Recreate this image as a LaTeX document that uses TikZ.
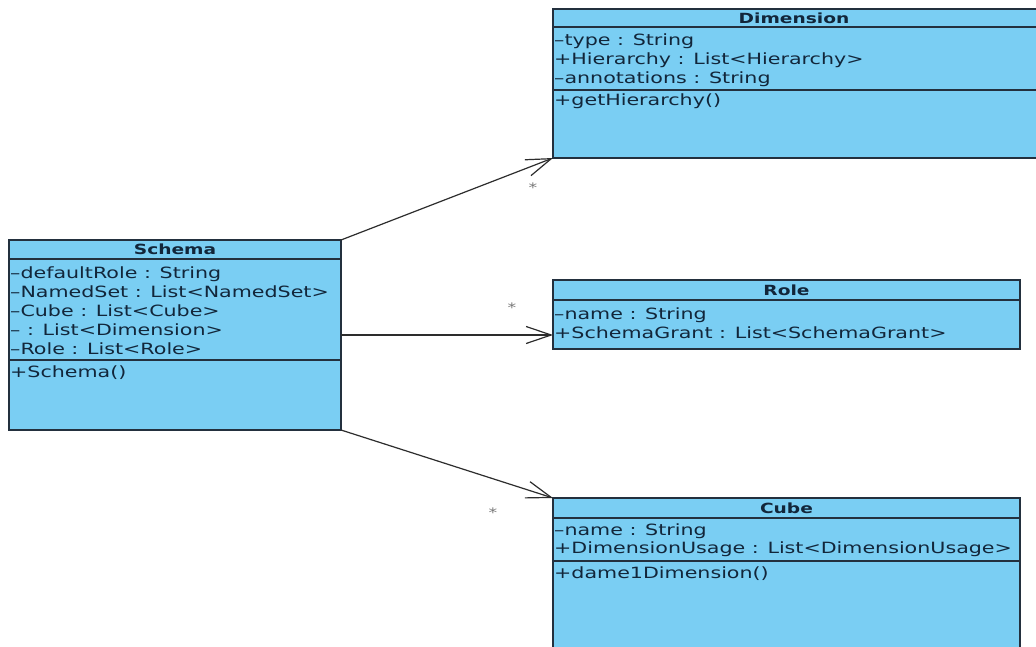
\documentclass[tikz,border=0pt]{standalone}
\usepackage{fontspec}
\setmainfont{DejaVu Sans}[FakeStretch=1.33]
\usetikzlibrary{arrows.meta,calc}
\definecolor{classfill}{RGB}{122,206,243}
\definecolor{classline}{RGB}{35,48,62}
\definecolor{classtext}{RGB}{18,38,58}
\definecolor{linkline}{RGB}{45,45,45}
\definecolor{multtext}{RGB}{120,120,120}
\begin{document}
\begin{tikzpicture}[x=1pt,y=-1pt,
  classbox/.style={draw=classline, fill=classfill, line width=1.3pt, inner sep=0pt, outer sep=0pt, anchor=north west},
  sep/.style={draw=classline, line width=1.3pt},
  title/.style={font=\fontsize{14}{16}\selectfont\bfseries, text=classtext, inner sep=0pt},
  member/.style={font=\fontsize{15.5}{18}\selectfont, text=classtext, inner sep=0pt, anchor=base west},
  assoc/.style={draw=linkline, line width=1.2pt, -{Straight Barb[length=25pt,width=17pt,line width=1.2pt]}},
  mult/.style={font=\fontsize{13}{14}\selectfont, text=multtext, inner sep=0pt}]
\useasboundingbox (0,0) rectangle (1036,646);
\fill[white] (0,0) rectangle (1036,646);

% Schema
\node[classbox, minimum width=332pt, minimum height=190pt] (schema) at (9,240) {};
\draw[sep] ($(schema.north west)+(0,19)$) -- ($(schema.north east)+(0,19)$);
\draw[sep] ($(schema.north west)+(0,120)$) -- ($(schema.north east)+(0,120)$);
\node[title] (schema-t) at ($(schema.north)+(0,9.5)$) {Schema};
\node[member] (schema-a1) at (10,278) {–defaultRole : String};
\node[member] (schema-a2) at (10,297) {–NamedSet : List<NamedSet>};
\node[member] (schema-a3) at (10,316) {–Cube : List<Cube>};
\node[member] (schema-a4) at (10,335) {– : List<Dimension>};
\node[member] (schema-a5) at (10,354) {–Role : List<Role>};
\node[member] (schema-m1) at (10,377) {+Schema()};

% Dimension
\node[classbox, minimum width=500pt, minimum height=149pt] (dimension) at (553,9) {};
\draw[sep] ($(dimension.north west)+(0,18)$) -- ($(dimension.north east)+(0,18)$);
\draw[sep] ($(dimension.north west)+(0,81)$) -- ($(dimension.north east)+(0,81)$);
\node[title] (dimension-t) at (794,18) {Dimension};
\node[member] (dimension-a1) at (554,45) {–type : String};
\node[member] (dimension-a2) at (554,64) {+Hierarchy : List<Hierarchy>};
\node[member] (dimension-a3) at (554,83) {–annotations : String};
\node[member] (dimension-m1) at (554,105) {+getHierarchy()};

% Role
\node[classbox, minimum width=467pt, minimum height=69pt] (role) at (553,280) {};
\draw[sep] ($(role.north west)+(0,20)$) -- ($(role.north east)+(0,20)$);
\node[title] (role-t) at ($(role.north)+(0,10)$) {Role};
\node[member] (role-a1) at (554,319) {–name : String};
\node[member] (role-a2) at (554,338) {+SchemaGrant : List<SchemaGrant>};

% Cube
\node[classbox, minimum width=467pt, minimum height=170pt] (cube) at (553,498) {};
\draw[sep] ($(cube.north west)+(0,20)$) -- ($(cube.north east)+(0,20)$);
\draw[sep] ($(cube.north west)+(0,63)$) -- ($(cube.north east)+(0,63)$);
\node[title] (cube-t) at ($(cube.north)+(0,10)$) {Cube};
\node[member] (cube-a1) at (554,535) {–name : String};
\node[member] (cube-a2) at (554,553) {+DimensionUsage : List<DimensionUsage>};
\node[member] (cube-m1) at (554,578) {+dame1Dimension()};

% associations
\coordinate (rolein) at ($(role.south west)+(0,-14)$);
\draw[assoc] (schema.north east) -- (dimension.south west);
\draw[assoc] (schema.east |- rolein) -- (rolein);
\draw[assoc] (schema.south east) -- (cube.north west);

% multiplicities
\node[mult] (dimension-mult) at (533,188) {*};
\node[mult] (role-mult) at (512,308) {*};
\node[mult] (cube-mult) at (493,513) {*};
\end{tikzpicture}
\end{document}
